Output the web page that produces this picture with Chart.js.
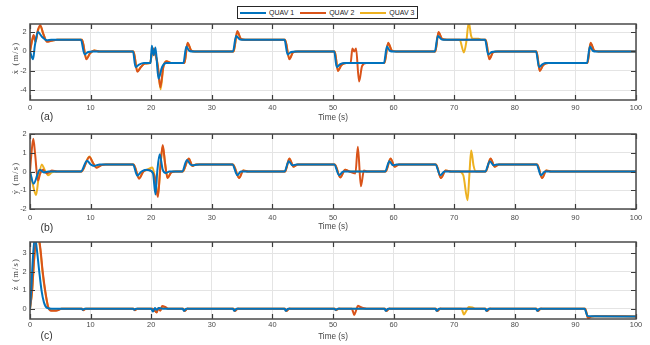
<!DOCTYPE html>
<html><head><meta charset="utf-8">
<script src="https://cdn.jsdelivr.net/npm/chart.js@4/dist/chart.umd.min.js"></script>
<style>
html,body{margin:0;padding:0;background:#fff;}
#wrap{position:relative;width:650px;height:345px;overflow:hidden;font-family:"Liberation Sans",Arial,sans-serif;}
canvas{position:absolute;left:0;}
#legend{position:absolute;left:237px;top:6px;height:11px;border:1px solid #262626;background:#fff;display:flex;align-items:center;padding:0 3px 0 2px;z-index:5;}
.li{display:flex;align-items:center;margin-right:6px;}
.li:last-child{margin-right:0;}
.ln{width:26px;height:2px;}
.lt{margin-left:3px;font-size:7px;line-height:10px;color:#222;white-space:nowrap;}
.tag{position:absolute;font-size:10.4px;line-height:10px;color:#333;}
.ylab{position:absolute;font-family:"Liberation Serif","DejaVu Serif",serif;font-size:8.5px;letter-spacing:1.2px;color:#444;white-space:nowrap;transform:translate(-50%,-50%) rotate(-90deg);}
</style></head>
<body>
<div id="wrap">
  <div id="legend"></div>
  <canvas id="ca" width="650" height="126" style="top:0px"></canvas>
  <canvas id="cb" width="650" height="108" style="top:126px"></canvas>
  <canvas id="cc" width="650" height="111" style="top:234px"></canvas>
  <div class="tag" style="left:40.5px;top:112px">(a)</div>
  <div class="tag" style="left:40.5px;top:222.5px">(b)</div>
  <div class="tag" style="left:40.5px;top:331px">(c)</div>
  <div class="ylab" style="left:15px;top:58px">ẋ (m/s)</div>
  <div class="ylab" style="left:15px;top:178px">ẏ (m/s)</div>
  <div class="ylab" style="left:15px;top:274px">ż (m/s)</div>
</div>
<script>
// ---------- data ----------
const SERIES_LABELS = ['QUAV 1', 'QUAV 2', 'QUAV 3'];
const SERIES_COLORS = ['#0072BD', '#D95319', '#EDB120'];
const X_TICKS = [0,10,20,30,40,50,60,70,80,90,100];
const Y_TICKS_A = [-4,-2,0,2];
const Y_TICKS_B = [-2,-1,0,1,2];
const Y_TICKS_C = [0,1,2,3];
const X_LABEL = 'Time (s)';

// panel (a): x velocity  [time, value]
const DX_QUAV1 = [[0,0],[0.5,-0.8],[0.8,0.6],[1.3,2.0],[2.0,1.5],[2.8,1.15],[3.5,1.2],[8.4,1.2],[9.0,-0.3],[9.6,-0.05],[10.3,0],[17.0,0],[17.4,-1.6],[18.0,-1.35],[18.8,-1.2],[19.9,-1.2],[20.1,0.6],[20.4,-0.4],[20.7,0.4],[21.2,-2.8],[21.8,-1.6],[22.5,-1.2],[25.3,-1.2],[25.8,0.5],[26.3,0.05],[27,0],[33.5,0],[34.0,1.6],[34.6,1.25],[35.2,1.2],[42.0,1.2],[42.5,-0.3],[43.1,-0.05],[43.8,0],[50.2,0],[50.6,-1.6],[51.2,-1.3],[52,-1.2],[58.4,-1.2],[58.9,0.5],[59.4,0.05],[60,0],[66.8,0],[67.3,1.6],[67.9,1.25],[68.5,1.2],[75.1,1.2],[75.6,-0.3],[76.2,-0.05],[76.8,0],[83.5,0],[84.0,-1.6],[84.6,-1.3],[85.2,-1.2],[91.9,-1.2],[92.4,0.5],[92.9,0.05],[93.5,0],[100,0]];
const DX_QUAV2 = [[0,0],[0.3,1.0],[0.6,1.7],[0.9,1.0],[1.3,2.2],[1.7,2.7],[2.2,1.8],[2.8,1.0],[3.5,1.1],[4.5,1.2],[8.6,1.2],[9.3,-0.8],[9.9,-0.2],[10.6,0.1],[11.5,0],[17.1,0],[17.7,-2.1],[18.3,-1.6],[19,-1.25],[19.8,-1.2],[20.3,0.3],[20.7,-0.3],[21.1,-1.5],[21.5,-3.7],[22.0,-1.6],[22.5,-1.0],[23.3,-1.2],[25.5,-1.2],[26.0,0.9],[26.6,0.1],[27.2,0],[33.6,0],[34.2,2.1],[34.8,1.3],[35.5,1.2],[42.1,1.2],[42.8,-0.8],[43.4,-0.1],[44.2,0],[50.3,0],[50.8,-2.0],[51.4,-1.4],[52.2,-1.2],[52.9,-1.2],[53.2,0.3],[53.5,0.0],[53.8,0.3],[54.3,-3.1],[54.8,-1.5],[55.5,-1.2],[58.5,-1.2],[59.1,0.9],[59.7,0.1],[60.4,0],[66.9,0],[67.4,2.0],[68.0,1.3],[68.8,1.2],[75.2,1.2],[75.8,-0.8],[76.4,-0.1],[77.2,0],[83.6,0],[84.1,-2.0],[84.7,-1.4],[85.5,-1.2],[92.0,-1.2],[92.5,0.9],[93.1,0.1],[93.8,0],[100,0]];
const DX_QUAV3 = [[0,0],[0.3,1.0],[0.6,1.6],[0.9,1.0],[1.3,2.1],[1.7,2.6],[2.2,1.8],[2.8,1.05],[3.5,1.1],[4.5,1.2],[8.6,1.2],[9.3,-0.75],[9.9,-0.2],[10.6,0.1],[11.5,0],[17.1,0],[17.7,-2.0],[18.3,-1.6],[19,-1.25],[19.8,-1.2],[20.3,0.3],[20.7,-0.3],[21.1,-1.5],[21.55,-3.9],[22.0,-1.6],[22.5,-1.0],[23.3,-1.2],[25.5,-1.2],[26.0,0.85],[26.6,0.1],[27.2,0],[33.6,0],[34.2,2.0],[34.8,1.3],[35.5,1.2],[42.1,1.2],[42.8,-0.75],[43.4,-0.1],[44.2,0],[50.3,0],[50.8,-1.95],[51.4,-1.4],[52.2,-1.2],[58.5,-1.2],[59.1,0.85],[59.7,0.1],[60.4,0],[66.9,0],[67.4,1.95],[68.0,1.3],[68.8,1.2],[70.9,1.2],[71.6,-0.1],[72.0,1.0],[72.4,3.0],[72.8,1.6],[73.1,1.3],[74.0,1.3],[74.6,1.2],[75.2,1.2],[75.8,-0.75],[76.4,-0.1],[77.2,0],[83.6,0],[84.1,-1.95],[84.7,-1.4],[85.5,-1.2],[92.0,-1.2],[92.5,0.85],[93.1,0.1],[93.8,0],[100,0]];

// panel (b): y velocity
const DY_QUAV1 = [[0,0],[0.6,-0.65],[1.2,-0.2],[1.6,0.1],[2.3,-0.05],[3,0],[8.4,0],[9.4,0.58],[10.0,0.38],[10.6,0.3],[11.5,0.38],[17.0,0.38],[17.7,-0.22],[18.4,0.0],[19.2,0.1],[19.8,0.05],[20.3,-0.1],[20.7,-1.22],[21.0,0],[21.4,0.92],[21.9,0.1],[22.4,-0.08],[23.0,0],[25.1,0],[25.9,0.62],[26.5,0.36],[27,0.33],[28,0.38],[33.4,0.38],[34.2,-0.2],[34.8,0],[42.0,0],[42.7,0.55],[43.3,0.33],[44,0.38],[50.2,0.38],[51.0,-0.2],[51.7,0.0],[58.6,0],[59.3,0.55],[59.9,0.33],[60.5,0.38],[66.9,0.38],[67.7,-0.2],[68.4,0],[75.1,0],[75.9,0.55],[76.5,0.33],[77,0.38],[83.6,0.38],[84.3,-0.2],[85,0],[100,0]];
const DY_QUAV2 = [[0,0],[0.25,1.0],[0.55,1.75],[0.85,0.9],[1.3,-0.48],[1.7,-0.1],[2.1,0.1],[2.8,-0.1],[3.6,0.05],[4.5,0],[8.5,0],[9.8,0.78],[10.4,0.45],[11.0,0.2],[11.8,0.35],[12.5,0.38],[17.1,0.38],[18.0,-0.38],[18.7,0.0],[19.4,0.1],[20.1,0.0],[20.6,-0.3],[21.1,-1.36],[21.5,0.2],[21.9,1.41],[22.3,0.4],[22.7,-0.35],[23.3,-0.05],[24,0],[25.2,0],[26.2,0.7],[26.8,0.3],[27.4,0.38],[33.5,0.38],[34.5,-0.35],[35.2,0.05],[36,0],[42.1,0],[42.8,0.7],[43.5,0.25],[44.2,0.38],[50.3,0.38],[51.2,-0.32],[52.0,0.1],[52.7,0],[53.7,-0.1],[54.1,1.32],[54.6,-0.79],[55.1,0.05],[55.6,0],[58.7,0],[59.5,0.7],[60.2,0.25],[60.9,0.38],[67.0,0.38],[67.8,-0.35],[68.6,0.05],[69.5,0],[75.2,0],[76.0,0.7],[76.7,0.25],[77.4,0.38],[83.7,0.38],[84.5,-0.35],[85.2,0.05],[86,0],[100,0]];
const DY_QUAV3 = [[0,0],[0.4,-0.6],[1.0,-1.25],[1.4,-0.4],[1.95,0.38],[2.4,0.1],[3.0,-0.2],[3.6,-0.05],[4.5,0],[8.5,0],[9.8,0.8],[10.4,0.45],[11.0,0.22],[11.8,0.35],[12.5,0.38],[17.1,0.38],[18.0,-0.36],[18.7,0.0],[19.4,0.1],[20.2,0.22],[20.6,-0.3],[21.1,-1.3],[21.5,0.2],[21.9,1.35],[22.3,0.4],[22.7,-0.33],[23.3,-0.05],[24,0],[25.2,0],[26.2,0.68],[26.8,0.3],[27.4,0.38],[33.5,0.38],[34.5,-0.33],[35.2,0.05],[36,0],[42.1,0],[42.8,0.68],[43.5,0.25],[44.2,0.38],[50.3,0.38],[51.2,-0.3],[52.0,0.1],[52.7,0],[58.7,0],[59.5,0.68],[60.2,0.25],[60.9,0.38],[67.0,0.38],[67.8,-0.33],[68.6,0.05],[69.5,0],[70.8,0],[71.5,-0.2],[72.2,-1.53],[72.5,-0.2],[72.8,1.12],[73.2,0.3],[73.6,0],[75.2,0],[76.0,0.68],[76.7,0.25],[77.4,0.38],[83.7,0.38],[84.5,-0.33],[85.2,0.05],[86,0],[100,0]];

// panel (c): z velocity
const DZ_QUAV1 = [[0,0],[0.2,1.0],[0.45,2.6],[0.8,3.9],[1.1,3.3],[1.5,2.1],[1.9,1.0],[2.3,0.35],[2.8,0.05],[3.6,0],[8.5,0],[8.7,-0.05],[9.0,0],[17.0,0],[17.2,-0.05],[17.5,0],[20.0,0],[20.3,-0.15],[20.6,0.05],[20.9,-0.05],[21.3,0.05],[22,0],[25.2,0],[25.4,-0.1],[25.8,0],[33.5,0],[33.7,-0.1],[34.1,0],[42.0,0],[42.2,-0.1],[42.6,0],[50.2,0],[50.4,-0.05],[50.8,0],[58.5,0],[58.7,-0.1],[59.1,0],[66.9,0],[67.1,-0.1],[67.5,0],[75.1,0],[75.3,-0.1],[75.7,0],[83.5,0],[83.7,-0.1],[84.1,0],[91.5,0],[92.0,-0.38],[92.5,-0.4],[100,-0.41]];
const DZ_QUAV2 = [[0,0],[0.35,1.0],[0.7,2.8],[1.2,4.2],[1.7,3.3],[2.1,2.0],[2.5,1.0],[3.0,0.1],[3.5,-0.1],[4.3,-0.1],[5.2,0],[8.6,0],[8.8,-0.07],[9.2,0],[17.1,0],[17.3,-0.07],[17.7,0],[20.2,0],[20.6,-0.1],[20.9,-0.2],[21.2,0.05],[21.5,-0.1],[21.8,0.15],[22.3,0.1],[22.8,0],[25.3,0],[25.5,-0.12],[26.0,0.02],[26.4,0],[33.6,0],[33.8,-0.12],[34.3,0.02],[34.7,0],[42.1,0],[42.3,-0.12],[42.8,0.02],[43.2,0],[50.3,0],[50.5,-0.07],[51,0.02],[51.4,0],[53.1,0],[53.3,-0.15],[53.5,-0.33],[53.8,-0.1],[54.1,0.17],[54.5,0.1],[55,0.05],[55.5,0],[58.6,0],[58.8,-0.12],[59.3,0.02],[59.7,0],[67.0,0],[67.2,-0.12],[67.7,0.02],[68.1,0],[75.2,0],[75.4,-0.12],[75.9,0.02],[76.3,0],[83.6,0],[83.8,-0.12],[84.3,0.02],[84.7,0],[91.6,0],[92.1,-0.5],[92.6,-0.42],[93.2,-0.4],[100,-0.41]];
const DZ_QUAV3 = [[0,0],[0.35,0.95],[0.7,2.7],[1.2,4.1],[1.7,3.2],[2.1,1.9],[2.5,0.95],[3.0,0.1],[3.5,-0.08],[4.3,-0.08],[5.2,0],[8.6,0],[8.8,-0.06],[9.2,0],[17.1,0],[17.3,-0.06],[17.7,0],[20.2,0],[20.6,-0.1],[20.9,-0.18],[21.2,0.05],[21.5,-0.08],[21.8,0.12],[22.3,0.08],[22.8,0],[25.3,0],[25.5,-0.1],[26.0,0],[33.6,0],[33.8,-0.1],[34.3,0],[42.1,0],[42.3,-0.1],[42.8,0],[50.3,0],[50.5,-0.06],[51,0],[58.6,0],[58.8,-0.1],[59.3,0],[67.0,0],[67.2,-0.1],[67.7,0],[71.2,0],[71.6,-0.3],[72.0,-0.1],[72.4,0.1],[73.0,0.08],[73.5,0],[75.2,0],[75.4,-0.1],[75.9,0],[83.6,0],[83.8,-0.1],[84.3,0],[91.6,0],[92.1,-0.48],[92.6,-0.42],[93.2,-0.4],[100,-0.41]];

// ---------- legend (built from series labels/colours) ----------
const legendEl = document.getElementById('legend');
SERIES_LABELS.forEach((lab, i) => {
  const it = document.createElement('div'); it.className = 'li';
  const ln = document.createElement('div'); ln.className = 'ln'; ln.style.background = SERIES_COLORS[i];
  const tx = document.createElement('div'); tx.className = 'lt'; tx.textContent = lab;
  it.appendChild(ln); it.appendChild(tx); legendEl.appendChild(it);
});

// ---------- chart helpers ----------
const boxPlugin = {
  id: 'matlabBox',
  afterDraw(chart) {
    const {ctx, chartArea: a, scales: {x, y}} = chart;
    ctx.save();
    ctx.strokeStyle = '#3a3a3a';
    ctx.lineWidth = 1.2;
    ctx.beginPath();
    const L = 5;
    x.ticks.forEach(t => {
      const px = Math.round(x.getPixelForValue(t.value)) + 0.5;
      ctx.moveTo(px, a.top); ctx.lineTo(px, a.top + L);
      ctx.moveTo(px, a.bottom); ctx.lineTo(px, a.bottom - L);
    });
    y.ticks.forEach(t => {
      const py = Math.round(y.getPixelForValue(t.value)) + 0.5;
      ctx.moveTo(a.left, py); ctx.lineTo(a.left + L, py);
      ctx.moveTo(a.right, py); ctx.lineTo(a.right - L, py);
    });
    ctx.stroke();
    ctx.strokeStyle = '#4a4a4a';
    ctx.lineWidth = 1.5;
    ctx.strokeRect(a.left, a.top, a.right - a.left, a.bottom - a.top);
    ctx.restore();
  }
};

const toXY = arr => arr.map(p => ({x: p[0], y: p[1]}));

function makeChart(id, series, yTicks, yMin, yMax, padTop, xHeight, tickPad, titlePadBottom) {
  const datasets = series.map((s, i) => ({
    label: SERIES_LABELS[i],
    data: toXY(s),
    borderColor: SERIES_COLORS[i],
    backgroundColor: SERIES_COLORS[i],
    borderWidth: 2,
    pointRadius: 0,
    fill: false,
    cubicInterpolationMode: 'monotone',
    borderJoinStyle: 'round'
  }));
  return new Chart(document.getElementById(id), {
    type: 'line',
    data: {datasets},
    plugins: [boxPlugin],
    options: {
      responsive: false,
      animation: false,
      events: [],
      devicePixelRatio: 1,
      layout: {padding: {top: padTop, right: 14, left: 0, bottom: 0}},
      plugins: {legend: {display: false}, tooltip: {enabled: false}, title: {display: false}},
      scales: {
        x: {
          type: 'linear', min: 0, max: 100,
          afterBuildTicks: s => { s.ticks = X_TICKS.map(v => ({value: v})); },
          afterFit: s => { s.height = xHeight; },
          grid: {color: '#e4e4e4', lineWidth: 1, drawTicks: false},
          border: {display: false},
          ticks: {padding: tickPad, color: '#4a4a4a', font: {family: 'Liberation Sans', size: 7.4}, maxRotation: 0, autoSkip: false},
          title: {display: true, text: X_LABEL, color: '#444', font: {family: 'Liberation Sans', size: 8.2}, padding: {top: 0, bottom: titlePadBottom}}
        },
        y: {
          type: 'linear', min: yMin, max: yMax,
          afterBuildTicks: s => { s.ticks = yTicks.map(v => ({value: v})); },
          afterFit: s => { s.width = 30; },
          grid: {color: '#e4e4e4', lineWidth: 1, drawTicks: false},
          border: {display: false},
          ticks: {padding: 3.3, color: '#4a4a4a', font: {family: 'Liberation Sans', size: 7.4}, autoSkip: false}
        }
      }
    }
  });
}

makeChart('ca', [DX_QUAV1, DX_QUAV2, DX_QUAV3], Y_TICKS_A, -5, 2.83, 24, 26, 3.3, 3.3);
makeChart('cb', [DY_QUAV1, DY_QUAV2, DY_QUAV3], Y_TICKS_B, -2, 2, 8, 25, 4.5, 2.1);
makeChart('cc', [DZ_QUAV1, DZ_QUAV2, DZ_QUAV3], Y_TICKS_C, -0.55, 3.62, 8, 26, 2, 3.1);
</script>
</body></html>
